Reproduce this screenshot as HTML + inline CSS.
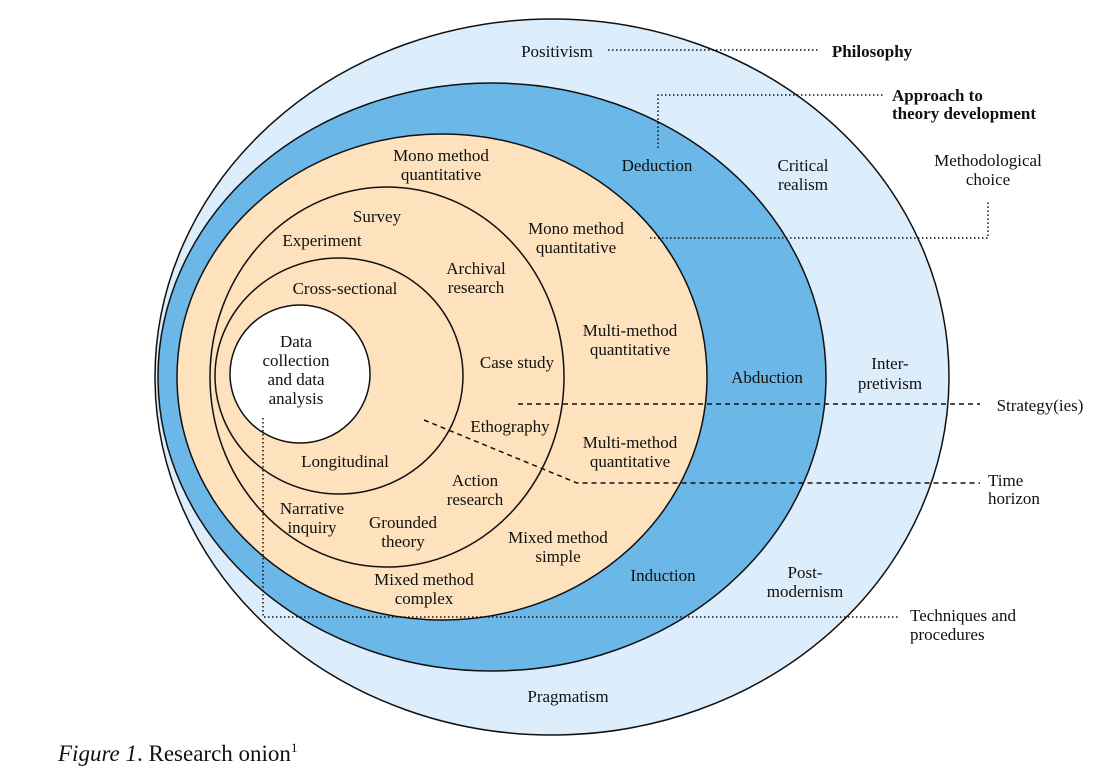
<!DOCTYPE html>
<html><head><meta charset="utf-8"><style>
html,body{margin:0;padding:0;background:#fff;}
svg{display:block;}
text{font-family:"Liberation Serif",serif;font-size:17px;fill:#111;text-anchor:middle;}
.b{font-weight:bold;}
.l{text-anchor:start;}
</style></head><body>
<svg width="1114" height="778" viewBox="0 0 1114 778">
<ellipse cx="552" cy="377" rx="397" ry="358" fill="#dcedfb" stroke="#111" stroke-width="1.5"/>
<ellipse cx="492" cy="377" rx="334" ry="294" fill="#6bb7e8" stroke="#111" stroke-width="1.5"/>
<ellipse cx="442" cy="377" rx="265" ry="243" fill="#fde2bd" stroke="#111" stroke-width="1.5"/>
<ellipse cx="387" cy="377" rx="177" ry="190" fill="none" stroke="#111" stroke-width="1.5"/>
<ellipse cx="339" cy="376" rx="124" ry="118" fill="none" stroke="#111" stroke-width="1.5"/>
<ellipse cx="300" cy="374" rx="70" ry="69" fill="#fff" stroke="#111" stroke-width="1.5"/>
<g fill="none" stroke="#111" stroke-width="1.5">
<path d="M608 50 H818" stroke-dasharray="1.5 2.5"/>
<path d="M658 148 V95 H885" stroke-dasharray="1.5 2.5"/>
<path d="M650 238 H988 V200" stroke-dasharray="1.5 2.5"/>
<path d="M518 404 H980" stroke-dasharray="5 4"/>
<path d="M424 420 L577 483 H980" stroke-dasharray="5 4"/>
<path d="M263 418 V617 H900" stroke-dasharray="1.5 2.5"/>
</g>
<text x="557" y="57">Positivism</text>
<text x="872" y="57" class="b">Philosophy</text>
<text x="892" y="101" class="b l">Approach to</text>
<text x="892" y="119" class="b l">theory development</text>
<text x="657" y="171">Deduction</text>
<text x="803" y="171">Critical</text><text x="803" y="190">realism</text>
<text x="988" y="166">Methodological</text><text x="988" y="185">choice</text>
<text x="441" y="161">Mono method</text><text x="441" y="180">quantitative</text>
<text x="377" y="222">Survey</text>
<text x="322" y="246">Experiment</text>
<text x="576" y="234">Mono method</text><text x="576" y="253">quantitative</text>
<text x="476" y="274">Archival</text><text x="476" y="293">research</text>
<text x="345" y="294">Cross-sectional</text>
<text x="296" y="347">Data</text><text x="296" y="366">collection</text><text x="296" y="385">and data</text><text x="296" y="404">analysis</text>
<text x="630" y="336">Multi-method</text><text x="630" y="355">quantitative</text>
<text x="517" y="368">Case study</text>
<text x="767" y="383">Abduction</text>
<text x="890" y="369">Inter-</text><text x="890" y="389">pretivism</text>
<text x="1040" y="411">Strategy(ies)</text>
<text x="510" y="432">Ethography</text>
<text x="630" y="448">Multi-method</text><text x="630" y="467">quantitative</text>
<text x="345" y="467">Longitudinal</text>
<text x="475" y="486">Action</text><text x="475" y="505">research</text>
<text x="988" y="486" class="l">Time</text><text x="988" y="504" class="l">horizon</text>
<text x="312" y="514">Narrative</text><text x="312" y="533">inquiry</text>
<text x="403" y="528">Grounded</text><text x="403" y="547">theory</text>
<text x="558" y="543">Mixed method</text><text x="558" y="562">simple</text>
<text x="663" y="581">Induction</text>
<text x="805" y="578">Post-</text><text x="805" y="597">modernism</text>
<text x="424" y="585">Mixed method</text><text x="424" y="604">complex</text>
<text x="910" y="621" class="l">Techniques and</text><text x="910" y="640" class="l">procedures</text>
<text x="568" y="702">Pragmatism</text>
<text x="58" y="761" class="l" style="font-size:23px"><tspan font-style="italic">Figure 1</tspan>. Research onion<tspan font-size="13" dy="-9">1</tspan></text>
</svg>
</body></html>
